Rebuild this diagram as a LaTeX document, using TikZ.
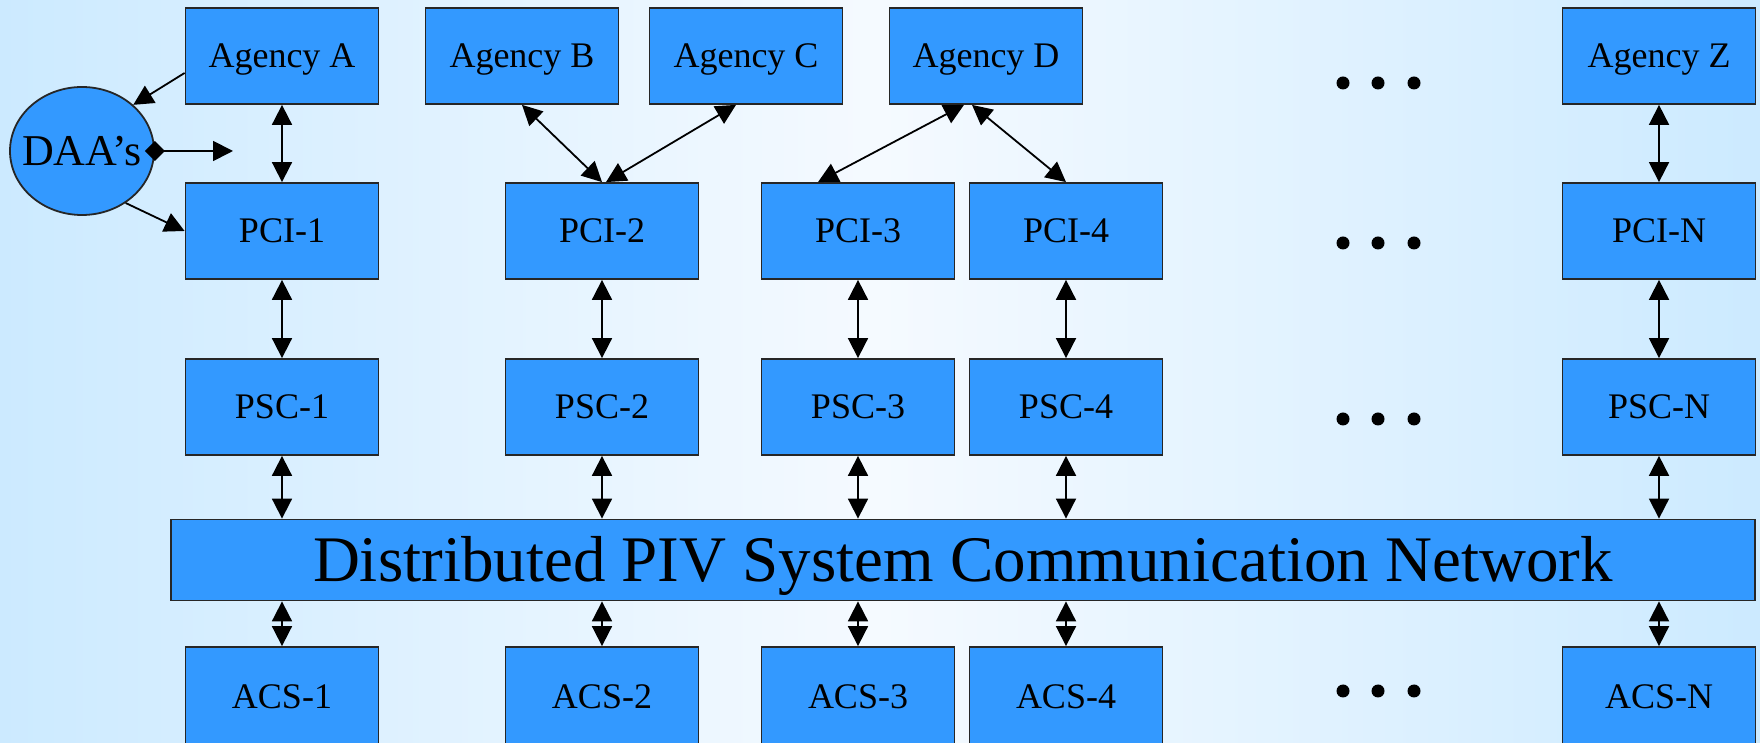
\documentclass[tikz,border=0pt]{standalone}
\usepackage{fontspec}
\setmainfont{Liberation Serif}
\usepackage{tikz}
\usetikzlibrary{shapes.geometric,arrows.meta}
\definecolor{boxblue}{RGB}{51,153,255}
\definecolor{bgside}{RGB}{204,234,255}
\definecolor{bgmid}{RGB}{245,250,255}
\tikzset{
  box/.style={draw=black!85, fill=boxblue, line width=1.8pt, inner sep=0pt,
    minimum width=193pt, minimum height=96pt, text height=24pt, text depth=0pt,
    font=\fontsize{36}{40}\selectfont},
  link/.style={<->, line width=1.8pt},
  >={Triangle[length=20pt,width=20pt]}
}
\begin{document}
\begin{tikzpicture}[x=1pt,y=1pt]
\useasboundingbox (0,0) rectangle (1760,743);

% to draw the background
\shade [left color=bgside, right color=bgside, middle color=bgmid] (0,0) rectangle (1760,743);

% to write agencies
\node [box] (agA) at (282,687) {Agency A};
\node [box] (agB) at (522,687) {Agency B};
\node [box] (agC) at (746,687) {Agency C};
\node [box] (agD) at (986,687) {Agency D};
\node [box] (agZ) at (1659,687) {Agency Z};

%PCI row:
\node [box] (pci1) at (282,512) {PCI-1};
\node [box] (pci2) at (602,512) {PCI-2};
\node [box] (pci3) at (858,512) {PCI-3};
\node [box] (pci4) at (1066,512) {PCI-4};
\node [box] (pciN) at (1659,512) {PCI-N};

%PSC row:
\node [box] (psc1) at (282,336) {PSC-1};
\node [box] (psc2) at (602,336) {PSC-2};
\node [box] (psc3) at (858,336) {PSC-3};
\node [box] (psc4) at (1066,336) {PSC-4};
\node [box] (pscN) at (1659,336) {PSC-N};

% network
\node [box, minimum width=1584pt, minimum height=81pt, text height=43pt,
  font=\fontsize{65}{70}\selectfont] (net) at (963,183) {Distributed PIV System Communication Network};

%ACS row:
\node [box, minimum height=100pt] (acs1) at (282,46) {ACS-1};
\node [box, minimum height=100pt] (acs2) at (602,46) {ACS-2};
\node [box, minimum height=100pt] (acs3) at (858,46) {ACS-3};
\node [box, minimum height=100pt] (acs4) at (1066,46) {ACS-4};
\node [box, minimum height=100pt] (acsN) at (1659,46) {ACS-N};

% DAA's
\node [box, ellipse, minimum width=144pt, minimum height=128pt, text height=29pt,
  font=\fontsize{44}{48}\selectfont] (daa) at (82,592) {\makebox[0pt]{DAA’s}};
\coordinate (daaout) at (233,592);

% to draw the dots
\foreach \y in {660,500,324,52}
  \foreach \x in {1343,1378,1414}
    \fill (\x,\y) circle (6.5pt);

% arrows round DAA's
\draw [->, line width=1.8pt] ([yshift=-17pt]agA.west) -- (daa.42);
\draw [->, line width=1.8pt] (daa.-50) -- (pci1.west);
\draw [{Diamond[length=20pt,width=20pt]}->, line width=1.8pt] ([xshift=-10pt]daa.east) -- (daaout);

% agencies to PCI
\draw [link] (agA) -- (pci1);
\draw [link] (agB.south) -- (pci2.north);
\draw [link] ([xshift=-10pt]agC.south) -- ([xshift=4pt]pci2.north);
\draw [link] ([xshift=-22pt]agD.south) -- ([xshift=-40pt]pci3.north);
\draw [link] ([xshift=-14pt]agD.south) -- (pci4.north);
\draw [link] (agZ) -- (pciN);

% PCI to PSC
\draw [link] (pci1) -- (psc1);
\draw [link] (pci2) -- (psc2);
\draw [link] (pci3) -- (psc3);
\draw [link] (pci4) -- (psc4);
\draw [link] (pciN) -- (pscN);

% PSC to network
\draw [link] (psc1) -- (psc1 |- net.north);
\draw [link] (psc2) -- (psc2 |- net.north);
\draw [link] (psc3) -- (psc3 |- net.north);
\draw [link] (psc4) -- (psc4 |- net.north);
\draw [link] (pscN) -- (pscN |- net.north);

% network to ACS
\draw [link] (net.south -| acs1) -- (acs1);
\draw [link] (net.south -| acs2) -- (acs2);
\draw [link] (net.south -| acs3) -- (acs3);
\draw [link] (net.south -| acs4) -- (acs4);
\draw [link] (net.south -| acsN) -- (acsN);
\end{tikzpicture}
\end{document}
